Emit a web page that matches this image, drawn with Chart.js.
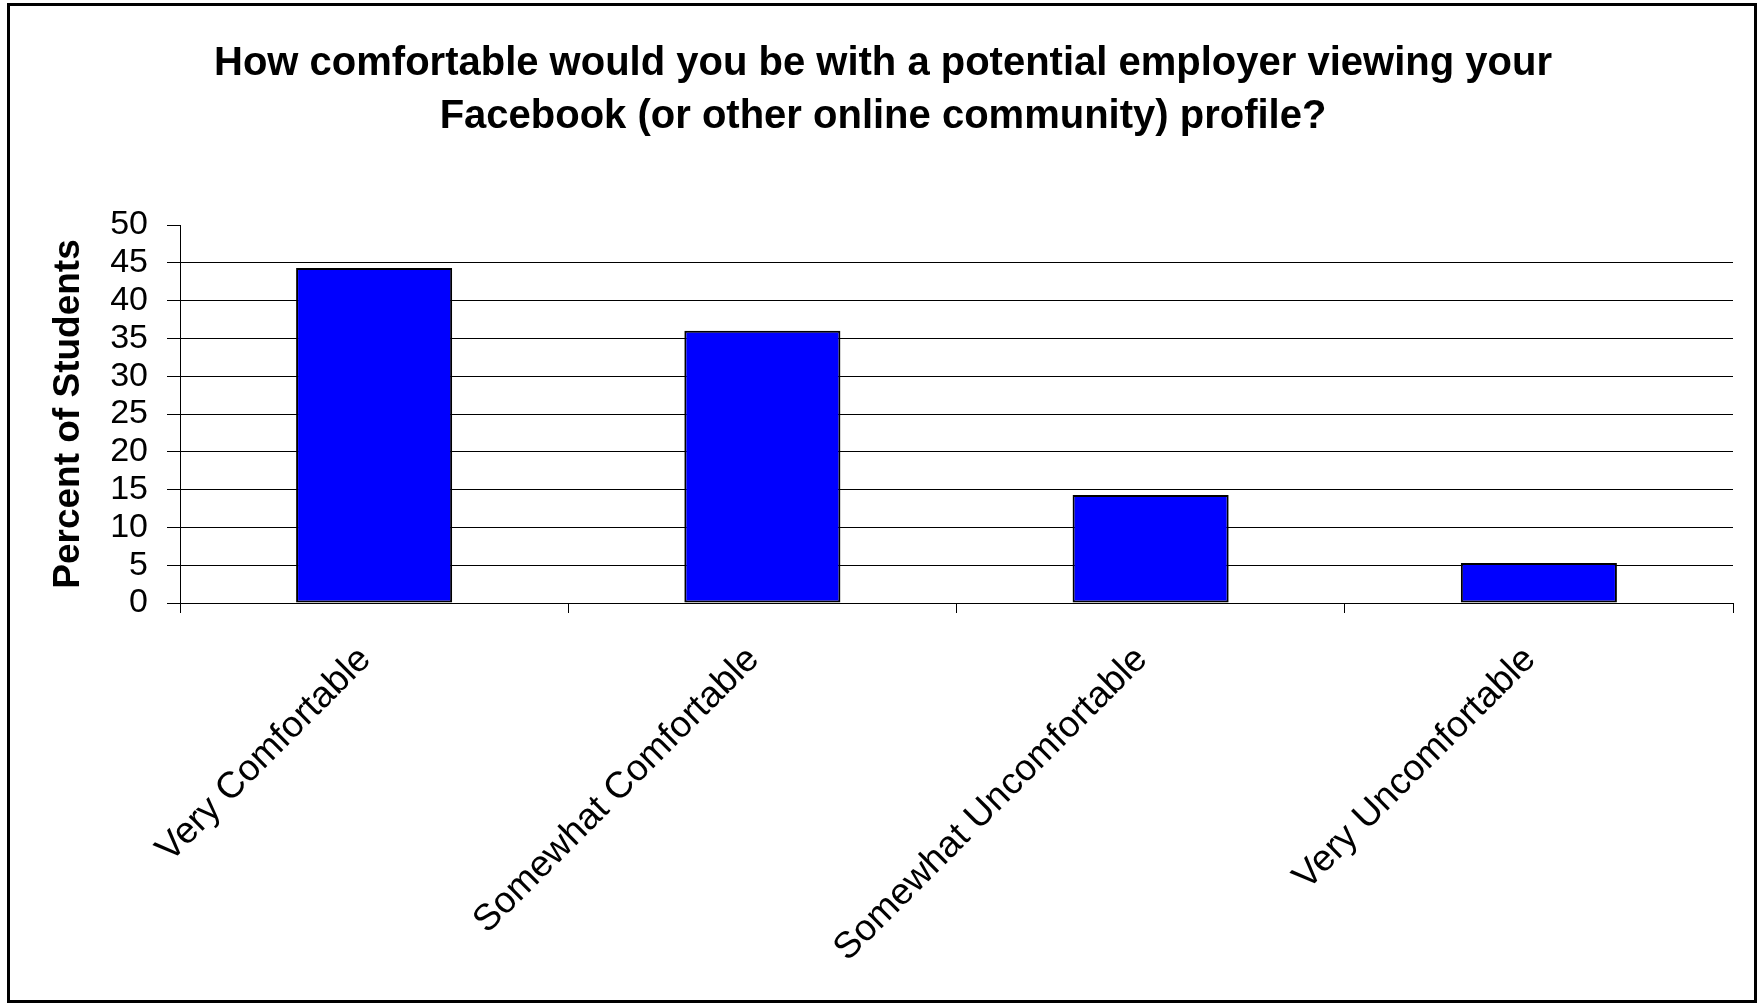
<!DOCTYPE html>
<html>
<head>
<meta charset="utf-8">
<script src="https://cdn.jsdelivr.net/npm/chart.js@4.4.1/dist/chart.umd.min.js"></script>
<style>
	body { margin: 0; background: #fff; }
	#chart-comfort { position: absolute; left: 0; top: 0; }
	#frame { position: absolute; left: 7px; top: 3px; width: 1744px; height: 994px; border: 3px solid #000; pointer-events: none; }
</style>
</head>
<body>
<canvas id="chart-comfort" width="1758" height="1003"></canvas>
<div id="frame"></div>
<script>
	// data
	var categories = ['Very Comfortable', 'Somewhat Comfortable', 'Somewhat Uncomfortable', 'Very Uncomfortable'];
	var percentStudents = [44.3, 36.0, 14.3, 5.3];
	var yMin = 0;
	var yMax = 50;
	var yStep = 5;

	var titleLines = ['How comfortable would you be with a potential employer viewing your', 'Facebook (or other online community) profile?'];
	var fontFamily = '"Liberation Sans", Arial, Helvetica, sans-serif';

	var configChartComfort = {
		type: 'bar',
		data: {
			labels: categories,
			datasets: [{
				data: percentStudents,
				backgroundColor: '#0000FF',
				borderColor: '#000000',
				borderWidth: 2,
				borderSkipped: false,
				categoryPercentage: 1,
				barPercentage: 0.402
			}]
		},
		options: {
			responsive: false,
			animation: false,
			devicePixelRatio: 1,
			layout: {
				padding: { left: 33, right: 25, top: 0, bottom: 0 }
			},
			plugins: {
				legend: { display: false },
				tooltip: { enabled: false },
				title: {
					display: true,
					text: titleLines,
					color: '#000',
					font: { family: fontFamily, size: 40, weight: 'bold', lineHeight: 1.325 },
					padding: { top: 37, bottom: 82 }
				}
			},
			scales: {
				x: {
					grid: {
						offset: true,
						drawOnChartArea: false,
						drawTicks: true,
						tickLength: 10,
						color: '#000'
					},
					border: { color: '#000', width: 1 },
					ticks: {
						color: '#000',
						font: { family: fontFamily, size: 37 },
						minRotation: 45,
						maxRotation: 45,
						padding: 25,
						labelOffset: -9,
						autoSkip: false
					},
					afterFit: function(scale) {
						scale.height = 400;
					}
				},
				y: {
					min: yMin,
					max: yMax,
					grid: {
						color: function(ctx) {
							return (ctx.tick && ctx.tick.value === yMax) ? 'rgba(0,0,0,0)' : '#000';
						},
						tickColor: '#000',
						tickLength: 13,
						lineWidth: 1
					},
					border: { color: '#000', width: 1 },
					ticks: {
						stepSize: yStep,
						autoSkip: false,
						color: '#000',
						padding: 19,
						font: { family: fontFamily, size: 34 }
					},
					title: {
						display: true,
						text: 'Percent of Students',
						color: '#000',
						font: { family: fontFamily, size: 37, weight: 'bold' },
						padding: { top: 14, bottom: 0 }
					},
					afterFit: function(scale) {
						scale.width = 147;
					}
				}
			}
		}
	};

	var ctx = document.getElementById('chart-comfort').getContext('2d');
	var chartComfort = new Chart(ctx, configChartComfort);
</script>
</body>
</html>
